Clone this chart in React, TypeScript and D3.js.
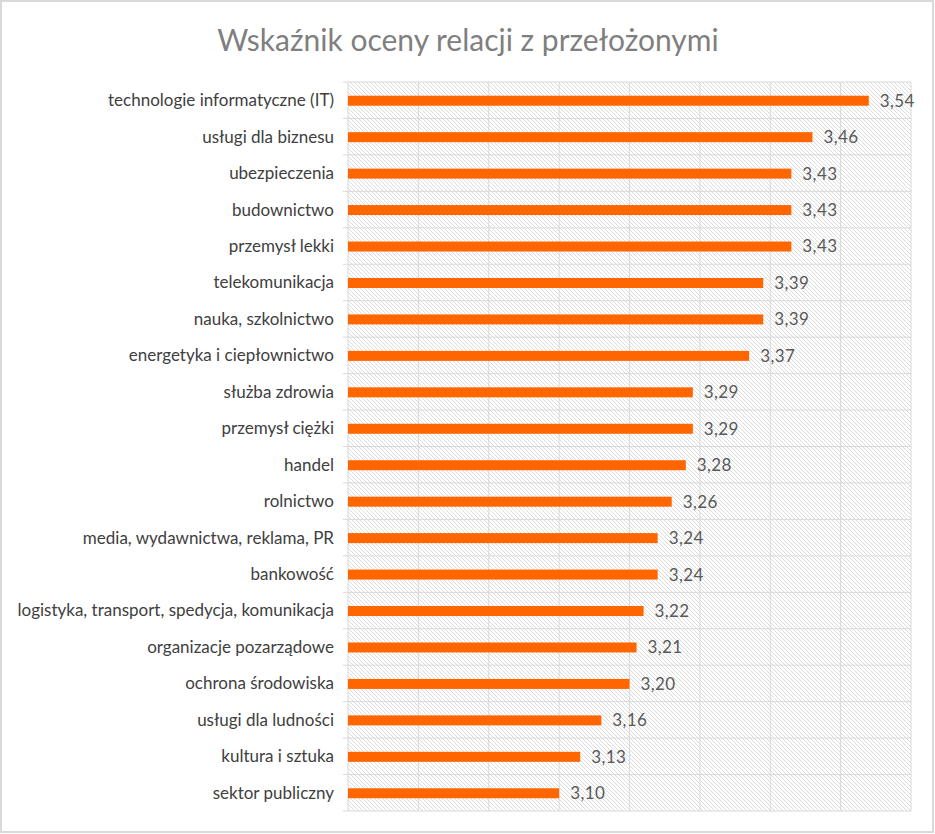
import React from "react";
import * as d3 from "d3";

const title = "Wskaźnik oceny relacji z przełożonymi";
const categories = [
  "technologie informatyczne (IT)",
  "usługi dla biznesu",
  "ubezpieczenia",
  "budownictwo",
  "przemysł lekki",
  "telekomunikacja",
  "nauka, szkolnictwo",
  "energetyka i ciepłownictwo",
  "służba zdrowia",
  "przemysł ciężki",
  "handel",
  "rolnictwo",
  "media, wydawnictwa, reklama, PR",
  "bankowość",
  "logistyka, transport, spedycja, komunikacja",
  "organizacje pozarządowe",
  "ochrona środowiska",
  "usługi dla ludności",
  "kultura i sztuka",
  "sektor publiczny",
];
const values = [3.54, 3.46, 3.43, 3.43, 3.43, 3.39, 3.39, 3.37, 3.29, 3.29, 3.28, 3.26, 3.24, 3.24, 3.22, 3.21, 3.2, 3.16, 3.13, 3.1];
const xDomain = [2.8, 3.6];

const W = 935;
const H = 834;
const left = 348;
const right = 911;
const top = 82;
const bottom = 811;
const FONT = "Lato, 'Open Sans', sans-serif";

const plLocale = d3.formatLocale({ decimal: ",", thousands: " ", grouping: [3], currency: ["", " zł"] });
const fmt = plLocale.format(".2f");

export default function App() {
  const x = d3.scaleLinear().domain(xDomain).range([left, right]);
  const y = d3.scaleBand<string>().domain(categories).range([top, bottom]).padding(0);
  const step = y.step();
  const barH = 10;
  const xTicks = d3.range(0, 9).map((i) => +(xDomain[0] + i * 0.1).toFixed(2));
  const rowEdges = d3.range(0, categories.length + 1).map((i) => top + i * step);

  return (
    <svg width={W} height={H} style={{ position: "absolute", left: 0, top: 0, background: "#fff" }}>
      <defs>
        <pattern id="hatch" patternUnits="userSpaceOnUse" width={4} height={4}>
          <rect width={4} height={4} fill="#ffffff" />
          <path d="M0,0 L4,4 M-1,3 L1,5 M3,-1 L5,1" stroke="#dcdcdc" strokeWidth={1} />
        </pattern>
      </defs>
      <rect x={1} y={1} width={W - 3} height={H - 3} fill="#ffffff" stroke="#d9d9d9" strokeWidth={2} />
      <text x={468} y={51} textAnchor="middle" fontFamily={FONT} fontSize={30} fill="#7f7f7f">
        {title}
      </text>
      <rect x={left} y={top} width={right - left} height={bottom - top} fill="url(#hatch)" />
      {xTicks.map((t) => (
        <line key={"gx" + t} x1={x(t)} x2={x(t)} y1={top} y2={bottom} stroke="#d9d9d9" strokeWidth={1} />
      ))}
      {rowEdges.map((yy, i) => (
        <line key={"gy" + i} x1={left - 5} x2={right} y1={yy} y2={yy} stroke="#d9d9d9" strokeWidth={1} />
      ))}
      {categories.map((c, i) => {
        const cy = (y(c) as number) + step / 2;
        return (
          <g key={c}>
            <rect x={x(xDomain[0])} y={cy - barH / 2 + 0.5} width={x(values[i]) - x(xDomain[0])} height={barH} fill="#ff6600" />
            <text x={334} y={cy} dy="0.35em" textAnchor="end" fontFamily={FONT} fontSize={17} fill="#404040">
              {c}
            </text>
            <text x={x(values[i]) + 11} y={cy} dy="0.38em" fontFamily={FONT} fontSize={17} letterSpacing={0.4} fill="#595959">
              {fmt(values[i])}
            </text>
          </g>
        );
      })}
    </svg>
  );
}
